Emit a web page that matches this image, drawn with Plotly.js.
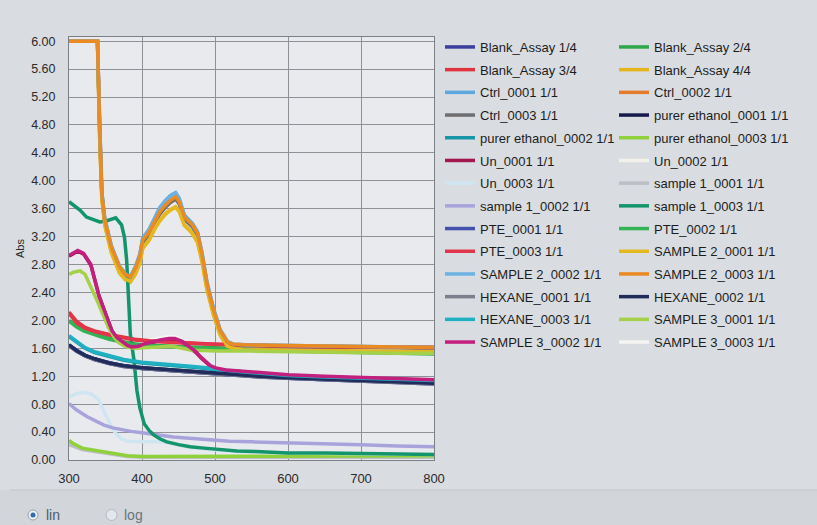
<!DOCTYPE html>
<html>
<head>
<meta charset="utf-8">
<script src="https://cdn.plot.ly/plotly-3.0.1.min.js"></script>
<style>html,body{margin:0;padding:0;background:#d9dce1;}#chart{width:817px;height:525px;}</style>
</head>
<body>
<div id="chart"></div>
<script>
// ---- legend labels (in legend order, row-major, 2 columns) ----
const names = ["Blank_Assay 1/4","Blank_Assay 2/4","Blank_Assay 3/4","Blank_Assay 4/4",
  "Ctrl_0001 1/1","Ctrl_0002 1/1","Ctrl_0003 1/1","purer ethanol_0001 1/1",
  "purer ethanol_0002 1/1","purer ethanol_0003 1/1","Un_0001 1/1","Un_0002 1/1",
  "Un_0003 1/1","sample 1_0001 1/1","sample 1_0002 1/1","sample 1_0003 1/1",
  "PTE_0001 1/1","PTE_0002 1/1","PTE_0003 1/1","SAMPLE 2_0001 1/1",
  "SAMPLE 2_0002 1/1","SAMPLE 2_0003 1/1","HEXANE_0001 1/1","HEXANE_0002 1/1",
  "HEXANE_0003 1/1","SAMPLE 3_0001 1/1","SAMPLE 3_0002 1/1","SAMPLE 3_0003 1/1"];
const colors = ["#3b3f9e","#2ea84a","#e0353f","#e6b51e",
  "#5ea8e0","#e57b2c","#6e6e70","#141a4a",
  "#1896a8","#8fd13a","#a3174f","#f2f1ea",
  "#cfe6f2","#bdbfc6","#a9a3dc","#13946b",
  "#4452ad","#34b356","#e2344a","#e3b820",
  "#6cb2e2","#ea8a22","#7d7f8c","#1f2c5c",
  "#1fb0c2","#a5d04a","#c21f7f","#f4f4f2"];

// ---- wavelength grids (nm) ----
const X_TOP = [300,320,339,342,345,349,358,369,377,384,391,397,401,410,417,424,432,439,446,451,458,464,469,476,482,489,498,507,517,525,540,600,700,800];
const X_S13 = [300,308,315,324,333,342,350,356,364,372,376,379,381,384,389,393,397,403,410,416,425,434,450,466,485,503,530,556,600,650,700,750,800];
const X_S3  = [300,306,312,320,330,341,350,359,366,372,380,386,395,405,415,425,437,445,455,464,474,481,488,494,501,515,529,560,600,650,700,750,800];
const X_S31 = [300,306,315,322,329,340,354,362,368,378,390,405,423,440,455,469,485,500,550,600,650,700,750,800];
const X_RED = [300,305,311,322,335,355,372,390,410,440,470,500,560,600,700,800];
const X_GRN = [300,310,320,330,342,355,370,385,400,430,460,492,530,560,600,700,800];
const X_TEAL= [300,310,322,335,355,375,400,425,446,470,488,501,529,560,600,650,700,750,800];
const X_NAVY= [300,310,322,335,355,375,400,425,446,470,490,520,560,600,650,700,750,800];
const X_U3  = [300,310,320,330,340,348,356,364,372,380,390,400,410,420,434,450,466,503,556,600,700,800];
const X_LAV = [300,310,325,337,348,360,372,385,400,420,443,465,488,520,551,600,650,700,750,800];
const X_BOT = [300,305,318,335,349,365,380,400,450,500,600,700,800];

// ---- absorbance values ----
const blank1 = [1.64,1.56,1.49,1.44,1.38,1.34,1.31,1.29,1.27,1.25,1.24,1.22,1.19,1.17,1.15,1.13,1.11,1.09];
const blank2 = [2.00,1.92,1.86,1.82,1.78,1.74,1.70,1.67,1.65,1.63,1.62,1.61,1.59,1.58,1.57,1.55,1.53];
const blank3 = [2.12,2.05,1.98,1.90,1.85,1.80,1.76,1.73,1.71,1.69,1.68,1.66,1.64,1.63,1.62,1.61];
const blank4 = [6.00,6.00,6.00,4.60,3.74,3.36,2.97,2.68,2.58,2.55,2.66,2.82,3.03,3.15,3.30,3.42,3.52,3.58,3.62,3.56,3.36,3.30,3.24,3.12,2.85,2.44,2.07,1.79,1.62,1.59,1.58,1.57,1.56,1.55];
const ctrl1  = [6.00,6.00,6.00,4.85,3.84,3.46,3.07,2.78,2.67,2.63,2.77,2.95,3.18,3.31,3.47,3.61,3.72,3.79,3.83,3.75,3.51,3.44,3.39,3.27,2.98,2.55,2.17,1.87,1.70,1.66,1.65,1.64,1.62,1.61];
const ctrl2  = [6.00,6.00,6.00,4.75,3.80,3.42,3.03,2.75,2.65,2.61,2.73,2.90,3.12,3.25,3.40,3.53,3.63,3.70,3.75,3.68,3.46,3.40,3.35,3.23,2.94,2.51,2.13,1.84,1.68,1.65,1.64,1.63,1.62,1.61];
const ctrl3  = [6.00,6.00,6.00,4.70,3.79,3.41,3.02,2.74,2.64,2.60,2.72,2.89,3.11,3.24,3.39,3.52,3.62,3.69,3.74,3.67,3.45,3.39,3.34,3.22,2.93,2.50,2.12,1.84,1.67,1.65,1.64,1.63,1.61,1.60];
const pe1    = [1.65,1.57,1.50,1.45,1.39,1.35,1.32,1.30,1.28,1.26,1.25,1.23,1.20,1.18,1.16,1.14,1.12,1.10];
const pe2    = [1.77,1.69,1.60,1.54,1.48,1.43,1.39,1.37,1.36,1.33,1.31,1.29,1.26,1.23,1.20,1.18,1.16,1.14,1.13];
const pe3    = [0.28,0.24,0.17,0.14,0.12,0.09,0.06,0.05,0.05,0.05,0.05,0.06,0.06];
const un1    = [2.92,2.96,2.99,2.95,2.79,2.36,2.09,1.84,1.74,1.69,1.63,1.61,1.62,1.66,1.69,1.71,1.73,1.73,1.69,1.62,1.54,1.46,1.39,1.34,1.31,1.28,1.27,1.24,1.21,1.19,1.17,1.15,1.14];
const un2    = [2.90,2.95,2.98,2.95,2.81,2.39,2.13,1.88,1.78,1.73,1.67,1.65,1.66,1.70,1.73,1.75,1.77,1.76,1.72,1.65,1.56,1.47,1.39,1.34,1.30,1.27,1.26,1.23,1.20,1.18,1.16,1.14,1.13];
const un3    = [0.90,0.95,0.97,0.95,0.87,0.70,0.52,0.38,0.30,0.27,0.26,0.26,0.26,0.27,0.25,0.21,0.18,0.14,0.11,0.10,0.09,0.08];
const s1a    = [0.22,0.20,0.15,0.12,0.10,0.07,0.05,0.04,0.04,0.04,0.04,0.04,0.04];
const s1b    = [0.81,0.72,0.62,0.55,0.50,0.46,0.43,0.41,0.39,0.36,0.33,0.31,0.29,0.27,0.26,0.25,0.23,0.22,0.20,0.19];
const s1c    = [3.70,3.63,3.58,3.48,3.44,3.41,3.42,3.44,3.47,3.37,3.19,2.86,2.50,1.80,1.43,1.00,0.75,0.52,0.42,0.36,0.30,0.26,0.22,0.19,0.17,0.15,0.13,0.12,0.10,0.10,0.09,0.09,0.08];
const pte1   = [1.64,1.57,1.50,1.44,1.39,1.35,1.31,1.29,1.28,1.26,1.24,1.22,1.20,1.17,1.15,1.13,1.11,1.10];
const pte2   = [1.99,1.91,1.85,1.81,1.77,1.73,1.69,1.66,1.64,1.62,1.61,1.60,1.58,1.57,1.56,1.54,1.52];
const pte3   = [2.10,2.03,1.96,1.89,1.84,1.79,1.75,1.72,1.70,1.68,1.67,1.66,1.64,1.63,1.62,1.61];
const s2a    = [6.00,6.00,6.00,4.62,3.75,3.37,2.98,2.69,2.59,2.56,2.67,2.83,3.04,3.16,3.31,3.43,3.53,3.59,3.63,3.57,3.37,3.31,3.25,3.13,2.86,2.45,2.08,1.80,1.63,1.60,1.58,1.57,1.56,1.55];
const s2b    = [6.00,6.00,6.00,4.82,3.83,3.45,3.06,2.78,2.67,2.62,2.76,2.94,3.17,3.30,3.46,3.60,3.71,3.78,3.82,3.74,3.50,3.43,3.38,3.26,2.97,2.54,2.16,1.86,1.69,1.66,1.65,1.64,1.62,1.61];
const s2c    = [6.00,6.00,6.00,4.80,3.82,3.44,3.05,2.77,2.66,2.62,2.75,2.92,3.15,3.27,3.42,3.55,3.65,3.72,3.77,3.70,3.48,3.42,3.37,3.25,2.96,2.53,2.15,1.86,1.69,1.66,1.65,1.64,1.62,1.61];
const hex1   = [1.64,1.56,1.49,1.44,1.38,1.34,1.31,1.29,1.27,1.25,1.24,1.22,1.19,1.17,1.15,1.13,1.11,1.09];
const hex2   = [1.65,1.57,1.50,1.45,1.39,1.35,1.32,1.30,1.28,1.26,1.25,1.23,1.20,1.18,1.16,1.14,1.12,1.10];
const hex3   = [1.78,1.70,1.61,1.55,1.49,1.44,1.40,1.38,1.37,1.34,1.32,1.30,1.27,1.24,1.21,1.19,1.17,1.15,1.14];
const s3a    = [2.66,2.69,2.71,2.66,2.50,2.25,1.90,1.76,1.68,1.62,1.60,1.61,1.63,1.63,1.60,1.57,1.57,1.56,1.56,1.55,1.55,1.54,1.53,1.53];
const s3b    = [2.93,2.97,3.00,2.96,2.80,2.35,2.10,1.85,1.75,1.70,1.64,1.62,1.63,1.67,1.70,1.72,1.74,1.74,1.70,1.63,1.55,1.47,1.40,1.35,1.32,1.29,1.28,1.25,1.22,1.20,1.18,1.16,1.15];
const s3c    = [2.90,2.95,2.98,2.95,2.81,2.39,2.13,1.88,1.78,1.73,1.67,1.65,1.66,1.70,1.73,1.75,1.77,1.76,1.72,1.65,1.56,1.47,1.39,1.34,1.30,1.27,1.26,1.23,1.20,1.18,1.16,1.14,1.13];

// series in legend order: [x grid, y values]
const series = [
  [X_NAVY,blank1],[X_GRN,blank2],[X_RED,blank3],[X_TOP,blank4],
  [X_TOP,ctrl1],[X_TOP,ctrl2],[X_TOP,ctrl3],[X_NAVY,pe1],
  [X_TEAL,pe2],[X_BOT,pe3],[X_S3,un1],[X_S3,un2],
  [X_U3,un3],[X_BOT,s1a],[X_LAV,s1b],[X_S13,s1c],
  [X_NAVY,pte1],[X_GRN,pte2],[X_RED,pte3],[X_TOP,s2a],
  [X_TOP,s2b],[X_TOP,s2c],[X_NAVY,hex1],[X_NAVY,hex2],
  [X_TEAL,hex3],[X_S31,s3a],[X_S3,s3b],[X_S3,s3c]
];
// drawing order: white and grey traces first so the coloured ones sit over them
const drawOrder = [11,27,13,0,1,2,3,4,5,6,7,8,9,10,12,14,15,16,17,18,19,20,21,22,23,24,25,26];

const traces = drawOrder.map(i => ({
  type: 'scatter', mode: 'lines',
  x: series[i][0], y: series[i][1],
  name: names[i],
  line: {color: colors[i], width: 3.5},
  legend: (i % 2 === 0) ? 'legend' : 'legend2',
  legendgroup: 'g' + i,
  legendrank: i + 1,
  hoverinfo: 'x+y+name'
}));

// pixel helpers for decorations
const L = 69, R = 434, T = 37, B = 460;
const W = 817, H = 525;
const px = v => (v - L) / (R - L);
const py = v => (B - v) / (B - T);

const legendCommon = {
  xref: 'container', yref: 'container', xanchor: 'left', yanchor: 'top',
  y: 1 - 32 / H, bgcolor: 'rgba(0,0,0,0)', borderwidth: 0,
  traceorder: 'grouped', tracegroupgap: 2.8, itemwidth: 30, maxheight: 420,
  font: {family: 'Liberation Sans, Arial, sans-serif', size: 13, color: '#1c1c1c'}
};

const layout = {
  width: W, height: H,
  margin: {l: L, r: W - R, t: T, b: H - B, pad: 0},
  paper_bgcolor: '#d9dce1',
  plot_bgcolor: '#e8eaee',
  font: {family: 'Liberation Sans, Arial, sans-serif', size: 13, color: '#2a2a2a'},
  showlegend: true,
  legend: Object.assign({}, legendCommon, {x: 440 / W}),
  legend2: Object.assign({}, legendCommon, {x: 614 / W}),
  xaxis: {
    range: [300, 800], tickmode: 'linear', tick0: 300, dtick: 100,
    showgrid: true, gridcolor: '#8e9196', gridwidth: 1,
    showline: true, linecolor: '#7c7f84', linewidth: 1, mirror: true,
    zeroline: false, ticks: '', ticklabelstandoff: 6,
    tickfont: {size: 13, color: '#2a2a2a'}
  },
  yaxis: {
    range: [0, 6.06], tickmode: 'linear', tick0: 0, dtick: 0.4, tickformat: '.2f',
    showgrid: true, gridcolor: '#8e9196', gridwidth: 1,
    showline: true, linecolor: '#7c7f84', linewidth: 1, mirror: true,
    zeroline: false, ticks: '', ticklabelstandoff: 10,
    tickfont: {size: 12.5, color: '#2a2a2a'},
    title: {text: 'Abs', font: {size: 11, color: '#2a2a2a'}, standoff: 4}
  },
  shapes: [
    {type: 'rect', xref: 'paper', yref: 'paper', x0: px(-5), x1: px(830), y0: py(490), y1: py(530),
     fillcolor: '#d2d5da', line: {width: 0}, layer: 'below'},
    {type: 'line', xref: 'paper', yref: 'paper', x0: px(10), x1: px(830), y0: py(490), y1: py(490),
     line: {color: '#c3c6cb', width: 1}},
    {type: 'circle', xref: 'paper', yref: 'paper', x0: px(28), x1: px(38), y0: py(510), y1: py(520),
     fillcolor: '#eef0f3', line: {color: '#9aa3ad', width: 1}},
    {type: 'circle', xref: 'paper', yref: 'paper', x0: px(30.5), x1: px(35.5), y0: py(512.5), y1: py(517.5),
     fillcolor: '#2f6fae', line: {width: 0}},
    {type: 'circle', xref: 'paper', yref: 'paper', x0: px(106), x1: px(117), y0: py(509.5), y1: py(520.5),
     fillcolor: '#e3e6ea', line: {color: '#b5bac0', width: 1}}
  ],
  annotations: [
    {text: 'lin', xref: 'paper', yref: 'paper', x: px(44), y: py(515), xanchor: 'left', yanchor: 'middle',
     showarrow: false, font: {size: 14, color: '#4a5a6a'}},
    {text: 'log', xref: 'paper', yref: 'paper', x: px(122), y: py(515), xanchor: 'left', yanchor: 'middle',
     showarrow: false, font: {size: 14, color: '#6a7480'}}
  ]
};

Plotly.newPlot('chart', traces, layout, {displayModeBar: false, staticPlot: true});
</script>
</body>
</html>
